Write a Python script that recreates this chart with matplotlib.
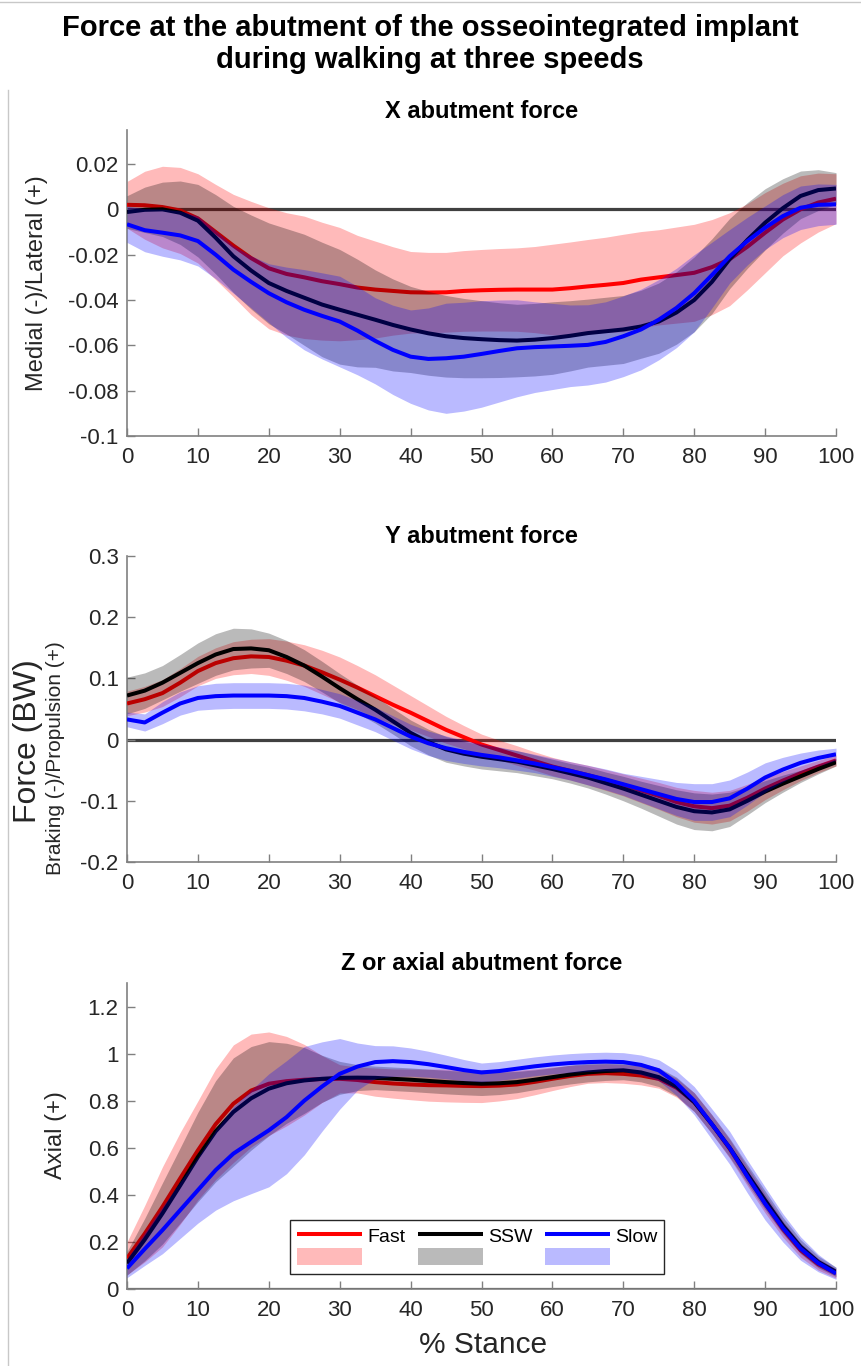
import matplotlib
matplotlib.use('Agg')
import matplotlib.pyplot as plt
from matplotlib.lines import Line2D
import numpy as np

plt.rcParams['font.family'] = ['Liberation Sans', 'DejaVu Sans']

# % stance, every 2.5 %
stance = np.arange(0, 100.1, 2.5)

# ---- X abutment force (BW): mean, upper and lower half-width of the band ----
x_fast_mean = [0.002, 0.0018, 0.001, -0.0005, -0.004, -0.010, -0.016, -0.0215, -0.026, -0.0285, -0.030,
               -0.0317, -0.033, -0.0345, -0.0354, -0.036, -0.0366, -0.0367, -0.0366, -0.036, -0.0357,
               -0.0355, -0.0354, -0.0354, -0.0354, -0.0348, -0.034, -0.0333, -0.0325, -0.031, -0.030,
               -0.029, -0.028, -0.0255, -0.022, -0.0165, -0.0103, -0.0045, 0.0, 0.003, 0.0047]
x_fast_sd = [0.0103, 0.015, 0.018, 0.019, 0.0197, 0.021, 0.0226, 0.025, 0.0267, 0.027, 0.027,
             0.026, 0.025, 0.023, 0.0214, 0.0195, 0.018, 0.0177, 0.0176, 0.0178, 0.018,
             0.0182, 0.0184, 0.019, 0.020, 0.0204, 0.0207, 0.021, 0.0215, 0.0212, 0.021,
             0.0212, 0.0214, 0.021, 0.0205, 0.019, 0.0177, 0.016, 0.0148, 0.013, 0.011]
x_ssw_mean = [-0.0012, -0.0002, 0.0, -0.0015, -0.005, -0.0125, -0.0207, -0.027, -0.0325, -0.036, -0.039,
              -0.042, -0.0443, -0.0465, -0.0487, -0.051, -0.053, -0.0547, -0.056, -0.0568, -0.0573,
              -0.0577, -0.0579, -0.0575, -0.0568, -0.0558, -0.0546, -0.0538, -0.053, -0.0517, -0.0495,
              -0.0455, -0.040, -0.032, -0.022, -0.0135, -0.0059, 0.0005, 0.0059, 0.0085, 0.0092]
x_ssw_sd_up = [0.0072, 0.010, 0.012, 0.014, 0.016, 0.019, 0.022, 0.0245, 0.0265, 0.0275, 0.028,
               0.0275, 0.0266, 0.0245, 0.022, 0.0203, 0.019, 0.0185, 0.018, 0.0175, 0.017,
               0.0165, 0.016, 0.016, 0.016, 0.0155, 0.015, 0.015, 0.015, 0.016, 0.017,
               0.018, 0.019, 0.019, 0.018, 0.0165, 0.015, 0.013, 0.011, 0.009, 0.007]
x_ssw_sd_dn = [0.0072, 0.010, 0.012, 0.014, 0.016, 0.016, 0.016, 0.017, 0.018, 0.019, 0.021,
               0.023, 0.024, 0.023, 0.021, 0.0203, 0.019, 0.0185, 0.018, 0.0175, 0.017,
               0.0165, 0.016, 0.016, 0.016, 0.0155, 0.015, 0.015, 0.015, 0.014, 0.014,
               0.014, 0.014, 0.014, 0.013, 0.0125, 0.012, 0.011, 0.010, 0.009, 0.007]
x_slow_mean = [-0.0066, -0.0092, -0.0103, -0.0115, -0.014, -0.020, -0.0266, -0.032, -0.037, -0.041, -0.0443,
               -0.047, -0.0495, -0.0535, -0.058, -0.062, -0.065, -0.066, -0.0657, -0.065, -0.0638,
               -0.0625, -0.0613, -0.0608, -0.0605, -0.0602, -0.0598, -0.0585, -0.056, -0.053, -0.0487,
               -0.0435, -0.037, -0.029, -0.0207, -0.014, -0.0081, -0.003, 0.0007, 0.002, 0.0022]
x_slow_sd = [0.008, 0.0095, 0.0104, 0.0108, 0.011, 0.0106, 0.0104, 0.0115, 0.013, 0.0155, 0.0177,
             0.019, 0.020, 0.0195, 0.019, 0.0197, 0.0206, 0.0225, 0.0243, 0.024, 0.0235,
             0.0225, 0.0214, 0.020, 0.019, 0.018, 0.0177, 0.0177, 0.0178, 0.0178, 0.0177,
             0.0175, 0.017, 0.0145, 0.0118, 0.0105, 0.0096, 0.0095, 0.0096, 0.0092, 0.0088]

# ---- Y abutment force (BW) ----
y_fast_mean = [0.059, 0.066, 0.076, 0.093, 0.112, 0.125, 0.133, 0.136, 0.135, 0.129, 0.121,
               0.110, 0.098, 0.085, 0.071, 0.057, 0.044, 0.030, 0.016, 0.004, -0.008,
               -0.017, -0.026, -0.035, -0.044, -0.051, -0.058, -0.066, -0.074, -0.083, -0.092,
               -0.102, -0.109, -0.112, -0.108, -0.095, -0.080, -0.067, -0.055, -0.044, -0.034]
y_fast_sd = [0.020, 0.021, 0.022, 0.023, 0.024, 0.025, 0.027, 0.028, 0.030, 0.032, 0.034,
             0.036, 0.037, 0.036, 0.035, 0.032, 0.028, 0.025, 0.022, 0.019, 0.017,
             0.016, 0.016, 0.015, 0.015, 0.015, 0.016, 0.017, 0.018, 0.020, 0.022,
             0.024, 0.026, 0.026, 0.025, 0.022, 0.018, 0.015, 0.012, 0.010, 0.009]
y_ssw_mean = [0.072, 0.080, 0.093, 0.109, 0.125, 0.139, 0.148, 0.149, 0.146, 0.135, 0.121,
              0.103, 0.084, 0.066, 0.049, 0.030, 0.011, -0.004, -0.016, -0.023, -0.028,
              -0.032, -0.036, -0.042, -0.048, -0.055, -0.062, -0.071, -0.080, -0.090, -0.100,
              -0.110, -0.117, -0.119, -0.114, -0.100, -0.085, -0.072, -0.060, -0.048, -0.037]
y_ssw_sd = [0.030, 0.029, 0.028, 0.030, 0.033, 0.034, 0.034, 0.032, 0.028, 0.027, 0.026,
            0.025, 0.024, 0.023, 0.022, 0.021, 0.021, 0.021, 0.021, 0.020, 0.020,
            0.019, 0.018, 0.017, 0.016, 0.016, 0.017, 0.018, 0.020, 0.022, 0.025,
            0.028, 0.030, 0.030, 0.028, 0.023, 0.018, 0.014, 0.010, 0.008, 0.006]
y_slow_mean = [0.033, 0.028, 0.044, 0.059, 0.068, 0.071, 0.072, 0.072, 0.072, 0.071, 0.068,
               0.062, 0.055, 0.044, 0.033, 0.019, 0.005, -0.006, -0.014, -0.020, -0.025,
               -0.029, -0.034, -0.039, -0.045, -0.051, -0.058, -0.065, -0.073, -0.081, -0.089,
               -0.097, -0.102, -0.102, -0.096, -0.080, -0.062, -0.049, -0.038, -0.030, -0.024]
y_slow_sd = [0.012, 0.014, 0.018, 0.019, 0.020, 0.021, 0.021, 0.021, 0.021, 0.021, 0.021,
             0.020, 0.020, 0.020, 0.020, 0.020, 0.020, 0.020, 0.020, 0.019, 0.018,
             0.017, 0.016, 0.015, 0.015, 0.015, 0.016, 0.017, 0.018, 0.021, 0.024,
             0.027, 0.030, 0.030, 0.030, 0.027, 0.024, 0.020, 0.016, 0.013, 0.010]

# ---- Z or axial abutment force (BW) ----
z_fast_mean = [0.13, 0.235, 0.349, 0.47, 0.589, 0.70, 0.787, 0.843, 0.872, 0.883, 0.889,
               0.892, 0.893, 0.888, 0.879, 0.873, 0.869, 0.866, 0.865, 0.863, 0.862,
               0.864, 0.869, 0.880, 0.893, 0.905, 0.914, 0.917, 0.914, 0.907, 0.893,
               0.855, 0.794, 0.70, 0.596, 0.478, 0.363, 0.255, 0.165, 0.105, 0.066]
z_fast_sd = [0.07, 0.12, 0.17, 0.195, 0.21, 0.235, 0.25, 0.24, 0.22, 0.19, 0.15,
             0.10, 0.06, 0.055, 0.06, 0.062, 0.065, 0.068, 0.07, 0.07, 0.07,
             0.065, 0.06, 0.055, 0.05, 0.045, 0.04, 0.04, 0.04, 0.04, 0.04,
             0.04, 0.04, 0.04, 0.04, 0.04, 0.04, 0.035, 0.03, 0.025, 0.02]
z_ssw_mean = [0.109, 0.21, 0.321, 0.44, 0.561, 0.67, 0.752, 0.81, 0.851, 0.874, 0.886,
              0.893, 0.897, 0.898, 0.897, 0.893, 0.889, 0.884, 0.879, 0.875, 0.872,
              0.874, 0.879, 0.889, 0.90, 0.911, 0.92, 0.926, 0.929, 0.92, 0.90,
              0.86, 0.794, 0.70, 0.60, 0.488, 0.377, 0.27, 0.18, 0.115, 0.073]
z_ssw_sd = [0.05, 0.09, 0.13, 0.16, 0.19, 0.215, 0.23, 0.22, 0.20, 0.17, 0.14,
            0.10, 0.07, 0.055, 0.05, 0.05, 0.05, 0.05, 0.05, 0.05, 0.05,
            0.048, 0.045, 0.042, 0.04, 0.04, 0.04, 0.04, 0.04, 0.04, 0.04,
            0.04, 0.04, 0.04, 0.04, 0.04, 0.04, 0.035, 0.03, 0.025, 0.02]
z_slow_mean = [0.088, 0.17, 0.25, 0.335, 0.42, 0.505, 0.575, 0.625, 0.674, 0.73, 0.80,
               0.86, 0.914, 0.945, 0.964, 0.968, 0.964, 0.955, 0.943, 0.93, 0.92,
               0.926, 0.936, 0.946, 0.954, 0.96, 0.964, 0.966, 0.964, 0.952, 0.929,
               0.875, 0.80, 0.70, 0.60, 0.478, 0.363, 0.26, 0.172, 0.11, 0.066]
z_slow_sd = [0.04, 0.07, 0.10, 0.12, 0.14, 0.17, 0.20, 0.22, 0.24, 0.24, 0.23,
             0.19, 0.15, 0.10, 0.07, 0.065, 0.06, 0.055, 0.05, 0.045, 0.04,
             0.04, 0.04, 0.04, 0.04, 0.04, 0.04, 0.04, 0.04, 0.042, 0.045,
             0.052, 0.06, 0.065, 0.07, 0.07, 0.07, 0.06, 0.05, 0.037, 0.025]

x_ticks = [0, 10, 20, 30, 40, 50, 60, 70, 80, 90, 100]
x_yticks = [-0.1, -0.08, -0.06, -0.04, -0.02, 0, 0.02]
x_ylabels = ['-0.1', '-0.08', '-0.06', '-0.04', '-0.02', '0', '0.02']
y_yticks = [-0.2, -0.1, 0, 0.1, 0.2, 0.3]
y_ylabels = ['-0.2', '-0.1', '0', '0.1', '0.2', '0.3']
z_yticks = [0, 0.2, 0.4, 0.6, 0.8, 1.0, 1.2]
z_ylabels = ['0', '0.2', '0.4', '0.6', '0.8', '1', '1.2']

speeds = ['Fast', 'SSW', 'Slow']
line_colors = ['#ff0000', '#000000', '#0000ff']
band_colors = ['#ff0000', '#000000', '#0000ff']
band_alpha = 0.27

W, H = 861, 1366
fig = plt.figure(figsize=(W / 100, H / 100), dpi=100)

def fx(x):
    return x / W

def fy(y):
    return 1 - y / H

panels = [
    dict(title='X abutment force', bottom=436, ylim=(-0.1, 0.035), yticks=x_yticks, ylabels=x_ylabels,
         ylabel='Medial (-)/Lateral (+)', ylab_pos=(-0.111, 0.5), ylab_size=17,
         means=[x_fast_mean, x_ssw_mean, x_slow_mean],
         ups=[x_fast_sd, x_ssw_sd_up, x_slow_sd], dns=[x_fast_sd, x_ssw_sd_dn, x_slow_sd]),
    dict(title='Y abutment force', bottom=862, ylim=(-0.2, 0.3), yticks=y_yticks, ylabels=y_ylabels,
         ylabel='Braking (-)/Propulsion (+)', ylab_pos=(-0.0874, 0.34), ylab_size=15,
         means=[y_fast_mean, y_ssw_mean, y_slow_mean],
         ups=[y_fast_sd, y_ssw_sd, y_slow_sd], dns=[y_fast_sd, y_ssw_sd, y_slow_sd]),
    dict(title='Z or axial abutment force', bottom=1289, ylim=(0, 1.3), yticks=z_yticks, ylabels=z_ylabels,
         ylabel='Axial (+)', ylab_pos=(-0.085, 0.503), ylab_size=17,
         means=[z_fast_mean, z_ssw_mean, z_slow_mean],
         ups=[z_fast_sd, z_ssw_sd, z_slow_sd], dns=[z_fast_sd, z_ssw_sd, z_slow_sd]),
]

axes = []
for p in panels:
    ax = fig.add_axes([fx(127), fy(p['bottom']), 709 / W, 306 / H])
    ax.axhline(0, color='#404040', lw=2.3, zorder=1)
    handles = []
    for k in range(3):
        m = np.array(p['means'][k])
        up = np.array(p['ups'][k])
        dn = np.array(p['dns'][k])
        band = ax.fill_between(stance, m - dn, m + up, color=band_colors[k], alpha=band_alpha,
                               lw=0, zorder=2 + 2 * k)
        ln, = ax.plot(stance, m, color=line_colors[k], lw=2.9, zorder=3 + 2 * k,
                      solid_joinstyle='round', solid_capstyle='butt')
        handles.append((ln, band))
    ax.set_xlim(0, 100)
    ax.set_ylim(*p['ylim'])
    ax.set_xticks(x_ticks)
    ax.set_xticklabels([str(t) for t in x_ticks])
    ax.set_yticks(p['yticks'])
    ax.set_yticklabels(p['ylabels'])
    for side in ['top', 'right']:
        ax.spines[side].set_visible(False)
    for side in ['left', 'bottom']:
        ax.spines[side].set_color('#808080')
        ax.spines[side].set_linewidth(1.2)
    ax.tick_params(direction='in', length=6, width=1, colors='#808080', labelcolor='#262626',
                   labelsize=16)
    ax.tick_params(axis='x', pad=8)
    ax.tick_params(axis='y', pad=6)
    ax.set_title(p['title'], fontsize=17, fontweight='bold', pad=9)
    ax.set_ylabel(p['ylabel'], fontsize=p['ylab_size'], color='#262626')
    ax.yaxis.set_label_coords(*p['ylab_pos'])
    ax.patch.set_alpha(0)
    axes.append((ax, handles))

# legend in the last panel: lines on the first row, bands on the second
ax3, hs = axes[-1]
leg_handles = []
leg_labels = []
for k in range(3):
    leg_handles += [hs[k][0], hs[k][1]]
    leg_labels += [speeds[k], '']
leg = ax3.legend(leg_handles, leg_labels, ncol=3, loc='lower left', bbox_to_anchor=(0.23, 0.049),
                 borderaxespad=0, fontsize=14, handlelength=3.35, handleheight=1.0,
                 handletextpad=0.25, columnspacing=0.65, labelspacing=0.1, borderpad=0.35,
                 fancybox=False, framealpha=1, edgecolor='#262626')
leg.get_frame().set_linewidth(1.0)
leg.set_zorder(20)

fig.text(fx(430), fy(44), 'Force at the abutment of the osseointegrated implant\nduring walking at three speeds',
         ha='center', va='center', fontsize=21, fontweight='bold', linespacing=1.2,
         family=['Liberation Sans Narrow', 'Liberation Sans', 'DejaVu Sans'])
fig.text(fx(28), fy(741), 'Force (BW)', rotation=90, ha='center', va='center', fontsize=23, color='#262626')
fig.text(fx(483), fy(1345), '% Stance', ha='center', va='center', fontsize=21.5, color='#262626')

# thin grey frame of the original figure
fig.add_artist(Line2D([0, 1], [fy(2), fy(2)], transform=fig.transFigure, color='#c8c8c8', lw=1))
fig.add_artist(Line2D([fx(8), fx(8)], [fy(90), 0], transform=fig.transFigure, color='#c8c8c8', lw=1))

fig.savefig('out.png', dpi=100)
